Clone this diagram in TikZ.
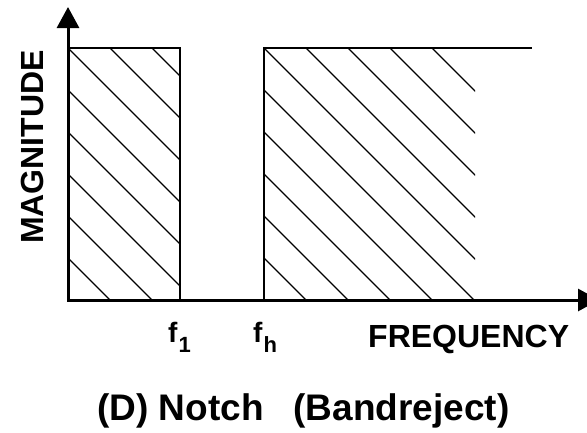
\documentclass[tikz,border=0pt]{standalone}
\usepackage{fontspec}
\setmainfont{Liberation Sans}
\usetikzlibrary{arrows.meta}
\tikzset{
  axisline/.style={line width=3pt, line join=miter,
    {Triangle[length=21pt,width=22pt]}-{Triangle[length=21pt,width=22pt]}},
  bandedge/.style={line width=1.8pt},
  hatchline/.style={line width=1.3pt},
  lbl/.style={inner sep=0pt, font=\bfseries}
}
\begin{document}
\begin{tikzpicture}[x=1pt,y=-1pt]
\useasboundingbox (0,0) rectangle (587,432);
\clip (0,0) rectangle (587,432);
% coordinates
\coordinate (O) at (68,300);
\coordinate (ytip) at (68,7);
\coordinate (xtip) at (599,300);
\coordinate (L1) at (68,48);
\coordinate (L2) at (180,300);
\coordinate (R0) at (264,300);
\coordinate (R1) at (264,48);
\coordinate (R2) at (532,48);
% hatching left band
\begin{scope}
  \clip (L1) rectangle (L2);
  \foreach \c in {-104,-62,-20,22,64,106,148,190}
    \draw[hatchline] (0,\c) -- (400,400+\c);
\end{scope}
% hatching right band
\begin{scope}
  \clip (R1) rectangle (475,300);
  \foreach \c in {-384,-342,-300,-258,-216,-174,-132,-90,-48,-6}
    \draw[hatchline] (200,200+\c) -- (600,600+\c);
\end{scope}
% band outlines
\draw[bandedge] (L1) rectangle (L2);
\draw[bandedge] (R0) -- (R1) -- (R2);
% axes
\draw[axisline] (ytip) -- (O) -- (xtip);
% labels
\node[lbl, rotate=90, font=\bfseries\fontsize{32}{32}\selectfont] (mag) at (32,147) {MAGNITUDE};
\node[lbl, anchor=base west, font=\bfseries\fontsize{28}{28}\selectfont] (f1) at (168,342)
  {f\kern1pt\raisebox{-10pt}{\fontsize{22}{22}\selectfont 1}};
\node[lbl, anchor=base west, font=\bfseries\fontsize{28}{28}\selectfont] (fh) at (253,342)
  {f\kern1pt\raisebox{-10pt}{\fontsize{22}{22}\selectfont h}};
\node[lbl, anchor=base west, font=\bfseries\fontsize{32}{32}\selectfont] (freq) at (368,347) {FREQUENCY};
\node[lbl, anchor=base west, font=\bfseries\fontsize{37}{37}\selectfont] (title) at (97,420)
  {(D) Notch\hspace{30pt}(Bandreject)};
\end{tikzpicture}
\end{document}
